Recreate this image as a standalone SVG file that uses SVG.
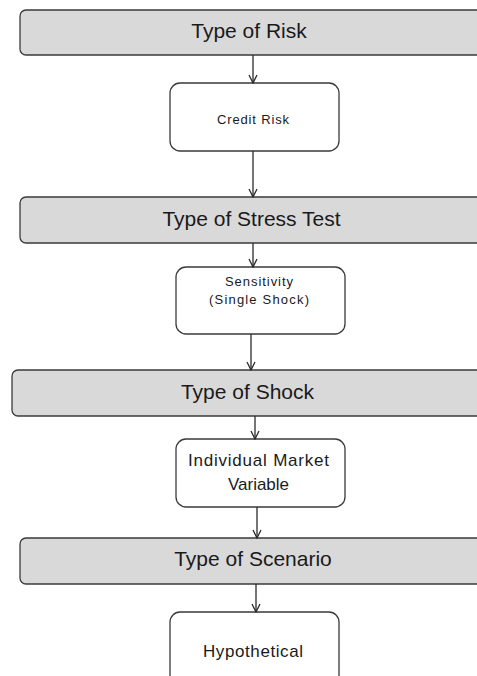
<svg xmlns="http://www.w3.org/2000/svg" width="477" height="676" viewBox="0 0 477 676">
  <defs>
    <marker id="arrow" viewBox="0 0 10 10" refX="9" refY="5" markerWidth="10" markerHeight="10" markerUnits="userSpaceOnUse" orient="auto">
      <path d="M1,1 L9,5 L1,9" fill="none" stroke="#2b2b2b" stroke-width="1.3"/>
    </marker>
    <style>
      .bar rect { fill: #d9d9d9; stroke: #3a3a3a; stroke-width: 1.3; }
      .box rect { fill: #ffffff; stroke: #3a3a3a; stroke-width: 1.3; }
      .bar text { font-family: "Liberation Sans", Arial, sans-serif; font-size: 21px; fill: #1a1a1a; text-anchor: middle; }
      .box text { font-family: "Liberation Sans", Arial, sans-serif; fill: #1a1a1a; text-anchor: middle; }
      .small { font-size: 13px; }
      .mid { font-size: 17px; }
      #connectors line { stroke: #2b2b2b; stroke-width: 1.3; marker-end: url(#arrow); }
    </style>
  </defs>

  <!-- category bars (run past the right edge) -->
  <g id="type-of-risk" class="bar">
    <rect x="20" y="10" width="480" height="45" rx="6"/>
    <text x="249" y="38">Type of Risk</text>
  </g>
  <g id="type-of-stress-test" class="bar">
    <rect x="20" y="197" width="480" height="46" rx="6"/>
    <text x="251.5" y="226">Type of Stress Test</text>
  </g>
  <g id="type-of-shock" class="bar">
    <rect x="12" y="370" width="490" height="46" rx="6"/>
    <text x="247.5" y="399">Type of Shock</text>
  </g>
  <g id="type-of-scenario" class="bar">
    <rect x="20" y="538" width="480" height="46" rx="6"/>
    <text x="253" y="566">Type of Scenario</text>
  </g>

  <!-- choice boxes -->
  <g id="credit-risk" class="box">
    <rect x="170" y="83" width="169" height="68" rx="10"/>
    <text class="small" x="253" y="124" textLength="72" lengthAdjust="spacing">Credit Risk</text>
  </g>
  <g id="sensitivity" class="box">
    <rect x="176" y="267" width="169" height="67" rx="10"/>
    <text class="small" x="259" y="286" textLength="68" lengthAdjust="spacing">Sensitivity</text>
    <text class="small" x="259" y="304" textLength="100" lengthAdjust="spacing">(Single Shock)</text>
  </g>
  <g id="individual-market-variable" class="box">
    <rect x="176" y="439" width="169" height="68" rx="10"/>
    <text class="mid" x="258.5" y="466" textLength="141" lengthAdjust="spacing">Individual Market</text>
    <text class="mid" x="258.5" y="490">Variable</text>
  </g>
  <g id="hypothetical" class="box">
    <rect x="170" y="612" width="169" height="80" rx="10"/>
    <text class="mid" x="253" y="657" textLength="100" lengthAdjust="spacing">Hypothetical</text>
  </g>

  <g id="connectors">
    <line x1="253" y1="55" x2="253" y2="83"/>
    <line x1="253" y1="151" x2="253" y2="197"/>
    <line x1="253" y1="243" x2="253" y2="267"/>
    <line x1="251" y1="334" x2="251" y2="370"/>
    <line x1="255" y1="416" x2="255" y2="439"/>
    <line x1="257" y1="507" x2="257" y2="538"/>
    <line x1="256" y1="584" x2="256" y2="612"/>
  </g>
</svg>
